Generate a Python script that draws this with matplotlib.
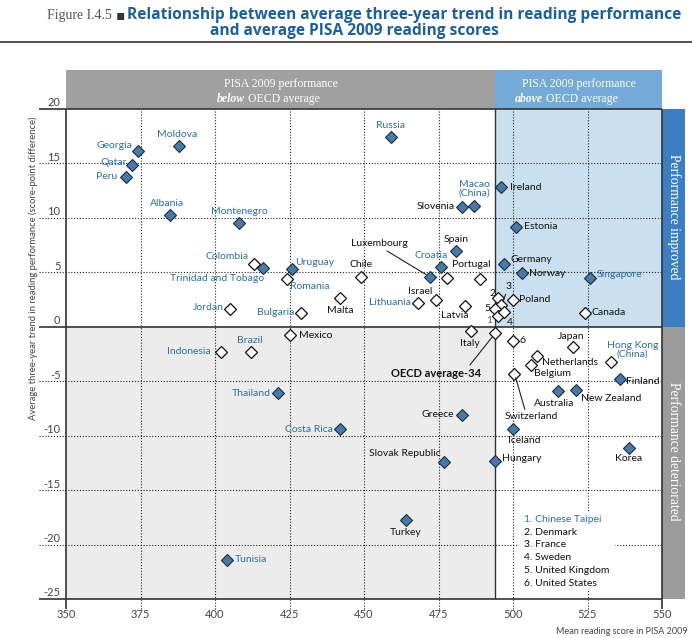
import matplotlib.pyplot as plt
from matplotlib.patches import Rectangle
import matplotlib.transforms as mtransforms

plt.rcParams['font.family'] = ['Lato', 'DejaVu Sans']

# Data: (PISA 2009 mean score, average three-year trend)
countries = ['Georgia', 'Moldova', 'Qatar', 'Peru', 'Albania', 'Montenegro',
             'Colombia', 'Trinidad and Tobago', 'Uruguay', 'Romania', 'Jordan',
             'Bulgaria', 'Malta', 'Chile', 'Russia', 'Macao (China)', 'Slovenia',
             'Ireland', 'Estonia', 'Spain', 'Croatia', 'Luxembourg', 'Unlabelled',
             'Portugal', 'Lithuania', 'Israel', 'Latvia', 'Germany', 'Norway',
             'Singapore', 'Poland', 'Canada', 'Denmark', 'France', 'United Kingdom',
             'Chinese Taipei', 'Sweden', 'Mexico', 'Brazil', 'Indonesia', 'Thailand',
             'Costa Rica', 'Italy', 'OECD average-34', 'United States', 'Japan',
             'Netherlands', 'Belgium', 'Hong Kong (China)', 'Switzerland', 'Finland',
             'Australia', 'New Zealand', 'Greece', 'Iceland', 'Korea',
             'Slovak Republic', 'Hungary', 'Turkey', 'Tunisia']
scores = [374, 388, 372, 370, 385, 408,
          413, 416, 426, 424, 405,
          429, 442, 449, 459, 487, 483,
          496, 501, 481, 476, 472, 478,
          489, 468, 474, 484, 497, 503,
          526, 500, 524, 495, 496, 494,
          495, 497, 425, 412, 402, 421,
          442, 486, 494, 500, 520,
          508, 506, 533, 500.5, 536,
          515, 521, 483, 500, 539,
          477, 494, 464, 404]
trends = [16.1, 16.6, 14.9, 13.8, 10.3, 9.5,
          5.8, 5.4, 5.3, 4.4, 1.6,
          1.3, 2.6, 4.6, 17.4, 11.1, 11.0,
          12.8, 9.2, 7.0, 5.5, 4.6, 4.5,
          4.4, 2.2, 2.5, 1.9, 5.8, 4.9,
          4.5, 2.5, 1.3, 2.6, 2.0, 1.6,
          1.0, 1.4, -0.8, -2.3, -2.3, -6.1,
          -9.4, -0.4, -0.6, -1.3, -1.9,
          -2.7, -3.5, -3.2, -4.3, -4.8,
          -5.9, -5.8, -8.1, -9.4, -11.1,
          -12.4, -12.3, -17.7, -21.4]
# filled diamond = statistically significant trend
significant = ['Georgia', 'Moldova', 'Qatar', 'Peru', 'Albania', 'Montenegro',
               'Trinidad and Tobago', 'Uruguay', 'Russia', 'Macao (China)',
               'Slovenia', 'Ireland', 'Estonia', 'Spain', 'Croatia', 'Luxembourg',
               'Germany', 'Norway', 'Singapore', 'Thailand', 'Costa Rica',
               'Finland', 'Australia', 'New Zealand', 'Greece', 'Iceland', 'Korea',
               'Slovak Republic', 'Hungary', 'Turkey', 'Tunisia']
# partner countries get blue labels
partners = ['Georgia', 'Moldova', 'Qatar', 'Peru', 'Albania', 'Montenegro',
            'Colombia', 'Trinidad and Tobago', 'Uruguay', 'Romania', 'Jordan',
            'Bulgaria', 'Russia', 'Macao (China)', 'Croatia', 'Lithuania',
            'Singapore', 'Brazil', 'Indonesia', 'Thailand', 'Costa Rica',
            'Hong Kong (China)', 'Tunisia', 'Chinese Taipei']
numbered = {'Chinese Taipei': '1', 'Denmark': '2', 'France': '3',
            'Sweden': '4', 'United Kingdom': '5', 'United States': '6'}

OECD_MEAN = 494
xticks = [350, 375, 400, 425, 450, 475, 500, 525, 550]
yticks = [-25, -20, -15, -10, -5, 0, 5, 10, 15, 20]

BLUE_TXT = '#2f6f9f'
FILL = '#4a79a6'

# label offsets in pixels from the marker: (dx, dy, ha)
LABEL_POS = {
    'Georgia': (-5, 6, 'right'), 'Moldova': (-2, 12, 'center'),
    'Qatar': (-5, 2, 'right'), 'Peru': (-8, 0, 'right'),
    'Albania': (-3, 11, 'center'), 'Montenegro': (0, 12, 'center'),
    'Colombia': (-5, 7, 'right'), 'Trinidad and Tobago': (1, -11, 'right'),
    'Uruguay': (3, 7, 'left'), 'Romania': (3, -8, 'left'),
    'Jordan': (-6, 2, 'right'), 'Bulgaria': (-7, 0, 'right'),
    'Malta': (0, -12, 'center'), 'Chile': (0, 12, 'center'),
    'Russia': (0, 12, 'center'), 'Macao (China)': (0, 17, 'center'),
    'Slovenia': (-8, 0, 'right'), 'Ireland': (9, 0, 'left'),
    'Estonia': (8, 0, 'left'), 'Spain': (0, 11, 'center'),
    'Croatia': (-10, 11, 'center'), 'Portugal': (-9, 14, 'center'),
    'Lithuania': (-7, 0, 'right'), 'Israel': (-15, 8, 'center'),
    'Latvia': (-11, -9, 'center'), 'Germany': (6, 4, 'left'),
    'Norway': (7, 0, 'left'), 'Singapore': (6, 3, 'left'),
    'Poland': (6, 0, 'left'), 'Canada': (7, 0, 'left'),
    'Denmark': (-6, 5, 'center'), 'United Kingdom': (-8, 1, 'center'),
    'Chinese Taipei': (-9, -5, 'center'), 'Sweden': (6, -11, 'center'),
    'Mexico': (9, 0, 'left'), 'Brazil': (-1, 11, 'center'),
    'Indonesia': (-10, 0, 'right'), 'Thailand': (-7, 0, 'right'),
    'Costa Rica': (-7, 0, 'right'), 'Italy': (-1, -12, 'center'),
    'United States': (6, 0, 'left'), 'Japan': (-1, 11, 'center'),
    'Netherlands': (5, -6, 'left'), 'Belgium': (3, -9, 'left'),
    'Hong Kong (China)': (21, 12, 'center'), 'Finland': (6, -2, 'left'),
    'Australia': (-4, -12, 'center'), 'New Zealand': (5, -9, 'left'),
    'Greece': (-8, 0, 'right'), 'Iceland': (11, -11, 'center'),
    'Korea': (-1, -11, 'center'), 'Slovak Republic': (-4, 8, 'right'),
    'Hungary': (7, 2, 'left'), 'Turkey': (0, -13, 'center'),
    'Tunisia': (8, 0, 'left'),
}
# labels joined to their marker by a leader line: (dx, dy, relpos)
LEADERS = {
    'Luxembourg': (-50, 33, (0.55, 0.0)),
    'OECD average-34': (-59, -40, (0.85, 1.0)),
    'Switzerland': (17, -43, (0.39, 1.0)),
    'France': (7, 18, (0.3, 0.0)),
}

fig = plt.figure(figsize=(6.92, 6.38), dpi=100)
ax = fig.add_axes([66 / 692, 1 - 599 / 638, 596 / 692, 490 / 638])
ax.set_xlim(350, 550)
ax.set_ylim(-25, 20)
for s in ax.spines.values():
    s.set_visible(False)

# shaded quadrants
ax.add_patch(Rectangle((OECD_MEAN, 0), 550 - OECD_MEAN, 20, fc='#cadff0', ec='none', zorder=0))
ax.add_patch(Rectangle((350, -25), OECD_MEAN - 350, 25, fc='#ececec', ec='none', zorder=0))

# top banner and right band
ax.add_patch(Rectangle((350, 20), OECD_MEAN - 350, 3.6, fc='#a0a0a0', ec='none', clip_on=False))
ax.add_patch(Rectangle((OECD_MEAN, 20), 550 - OECD_MEAN, 3.6, fc='#74a9d8', ec='none', clip_on=False))
ax.add_patch(Rectangle((550, 0), 7.7, 20, fc='#3b7fc0', ec='none', clip_on=False))
ax.add_patch(Rectangle((550, -25), 7.7, 25, fc='#9b9b9b', ec='none', clip_on=False))

dots = (0, (1, 1.6))
ax.vlines(xticks[1:-1], -25.9, 20, colors='#222222', linestyles=dots, lw=0.8, clip_on=False, zorder=1)
ax.hlines([y for y in yticks if y not in (-25, 0, 20)], 341, 550, colors='#222222',
          linestyles=dots, lw=0.8, clip_on=False, zorder=1)
ax.hlines([-25, 0, 20], 341, 550, colors='#333333', lw=1.2, clip_on=False, zorder=2)
ax.vlines([350, 550], -25.9, 20, colors='#333333', lw=1.2, clip_on=False, zorder=2)
ax.vlines([OECD_MEAN], -25, 20, colors='#333333', lw=1.0, zorder=2)

ax.set_xticks(xticks)
ax.set_xticklabels([str(v) for v in xticks])
ax.set_yticks(yticks)
ax.set_yticklabels([str(v) for v in yticks])
ax.tick_params(length=0, labelsize=8, labelcolor='#444444')
ax.tick_params(axis='x', pad=7)
ax.tick_params(axis='y', pad=4)
shift = mtransforms.ScaledTranslation(0, 7 / 100, fig.dpi_scale_trans)
for lab in ax.get_yticklabels():
    lab.set_transform(lab.get_transform() + shift)

# banner text
for cx, word in [((350 + OECD_MEAN) / 2, 'below'), ((OECD_MEAN + 550) / 2, 'above')]:
    ax.text(cx, 22.3, 'PISA 2009 performance', ha='center', va='center', color='white',
            family='Liberation Serif', fontsize=8.5, clip_on=False)
    t = ax.text(cx - 16.5, 20.9, word, ha='center', va='center', color='white',
                family='Liberation Serif', fontsize=8.5, style='italic', weight='bold')
    ax.annotate(' OECD average', xy=(1, 0), xycoords=t, va='bottom', ha='left',
                color='white', family='Liberation Serif', fontsize=8.5)
ax.text(553.9, 10.1, 'Performance improved', rotation=-90, ha='center', va='center',
        color='white', family='Liberation Serif', fontsize=9.8, clip_on=False)
ax.text(553.9, -11.4, 'Performance deteriorated', rotation=-90, ha='center', va='center',
        color='white', family='Liberation Serif', fontsize=9.8, clip_on=False)

# markers
for name, x, y in zip(countries, scores, trends):
    if name in significant:
        ax.plot(x, y, 'D', ms=5.8, mfc=FILL, mec='#1c2c3e', mew=0.8, zorder=4)
    else:
        ax.plot(x, y, 'D', ms=5.8, mfc='white', mec='#111111', mew=0.9, zorder=4)

# labels
for name, x, y in zip(countries, scores, trends):
    col = BLUE_TXT if name in partners else '#111111'
    text = numbered.get(name, name)
    if name in LABEL_POS:
        dx, dy, ha = LABEL_POS[name]
        if name == 'Macao (China)':
            text = 'Macao\n(China)'
        if name == 'Hong Kong (China)':
            text = 'Hong Kong\n(China)'
        ax.annotate(text, (x, y), xytext=(dx, dy), textcoords='offset pixels',
                    ha=ha, va='center', fontsize=7.5, color=col, zorder=5,
                    linespacing=0.9, multialignment='center')
    elif name in LEADERS:
        dx, dy, rp = LEADERS[name]
        bold = name == 'OECD average-34'
        ax.annotate(text, (x, y), xytext=(dx, dy), textcoords='offset pixels',
                    ha='center', va='center', fontsize=8 if bold else 7.5, color=col,
                    weight='bold' if bold else 'normal', zorder=5,
                    arrowprops=dict(arrowstyle='-', color='#222222', lw=0.8,
                                    relpos=rp, shrinkA=0, shrinkB=3))

# key for numbered labels
ax.add_patch(Rectangle((501.7, -24.1), 32.5, 7.0, fc='white', ec='none', zorder=3))
for i, name in enumerate(numbered):
    ax.text(503.7, -17.7 - i * 1.17, numbered[name] + '. ' + name, ha='left', va='center',
            fontsize=7.5, color=BLUE_TXT if name in partners else '#111111', zorder=5)

fig.text(33 / 692, 1 - 268 / 638,
         'Average three-year trend in reading performance (score-point difference)',
         rotation=90, ha='center', va='center', fontsize=6.8, color='#444444')
fig.text(688 / 692, 1 - 631 / 638, 'Mean reading score in PISA 2009',
         ha='right', va='center', fontsize=6.5, color='#444444')

# title
fig.text(112 / 692, 1 - 15 / 638, 'Figure I.4.5', ha='right', va='center', fontsize=10,
         color='#555555', family='Liberation Serif')
fig.text(116 / 692, 1 - 15 / 638, '\u25aa', ha='left', va='center', fontsize=10,
         color='#333333', family='DejaVu Sans')
fig.text(127 / 692, 1 - 15 / 638,
         'Relationship between average three-year trend in reading performance',
         ha='left', va='center', fontsize=11.2, weight='bold', color='#1f5f9a',
         family=['Open Sans', 'DejaVu Sans'])
fig.text(210 / 692, 1 - 31 / 638, 'and average PISA 2009 reading scores',
         ha='left', va='center', fontsize=11.2, weight='bold', color='#1f5f9a',
         family=['Open Sans', 'DejaVu Sans'])
fig.add_artist(plt.Line2D([0, 1], [1 - 42 / 638] * 2, color='#333333', lw=1.2))

fig.savefig('out.png', dpi=100)
